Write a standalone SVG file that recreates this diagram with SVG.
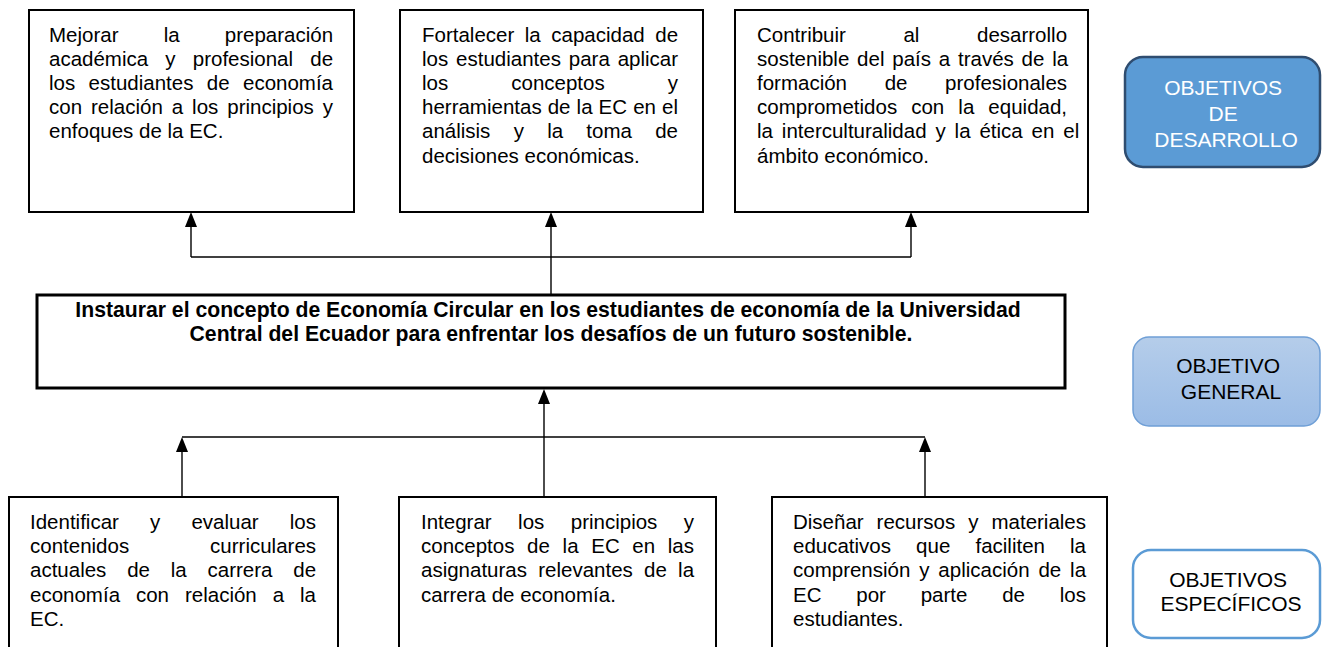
<svg xmlns="http://www.w3.org/2000/svg" width="1322" height="647" viewBox="0 0 1322 647">
<style>
.box{fill:#fff;stroke:#000;stroke-width:2}
.mid{fill:#fff;stroke:#000;stroke-width:3}
.t{font-family:"Liberation Sans",Arial,sans-serif;font-size:20.5px;fill:#000}
.b{font-family:"Liberation Sans",Arial,sans-serif;font-size:21.2px;font-weight:bold;fill:#000;text-anchor:middle}
.lab{font-family:"Liberation Sans",Arial,sans-serif;font-size:21px;text-anchor:middle}
.con{fill:none;stroke:#000;stroke-width:1.4}
</style>
<defs>
<marker id="ah" viewBox="0 0 12 15" refX="6" refY="0" markerWidth="12" markerHeight="15" markerUnits="userSpaceOnUse" orient="auto-start-reverse">
<path d="M0,15 L6,0 L12,15 Z" fill="#000"/>
</marker>
<linearGradient id="g2" x1="0" y1="0" x2="0" y2="1">
<stop offset="0" stop-color="#b5cdea"/>
<stop offset="1" stop-color="#9bbce6"/>
</linearGradient>
</defs>

<g id="connectors">
<path class="con" d="M191,257 H911"/>
<line class="con" x1="191" y1="257" x2="191" y2="226" />
<path d="M185,227 L191,212 L197,227 Z"/>
<line class="con" x1="551" y1="295" x2="551" y2="226"/>
<path d="M545,227 L551,212 L557,227 Z"/>
<line class="con" x1="911" y1="257" x2="911" y2="226"/>
<path d="M905,227 L911,212 L917,227 Z"/>
<path class="con" d="M182,437 H925"/>
<line class="con" x1="182" y1="497" x2="182" y2="451"/>
<path d="M176,452 L182,437 L188,452 Z"/>
<line class="con" x1="544" y1="497" x2="544" y2="402"/>
<path d="M538,404 L544,389 L550,404 Z"/>
<line class="con" x1="925" y1="497" x2="925" y2="451"/>
<path d="M919,452 L925,437 L931,452 Z"/>
</g>

<g id="top1">
<rect class="box" x="29" y="10" width="325" height="202"/>
<text class="t">
<tspan x="49" y="41.5" word-spacing="39.47">Mejorar la preparación</tspan>
<tspan x="49" y="65.7" word-spacing="11.49">académica y profesional de</tspan>
<tspan x="49" y="89.9" word-spacing="7.68">los estudiantes de economía</tspan>
<tspan x="49" y="114.1" word-spacing="3.25">con relación a los principios y</tspan>
<tspan x="49" y="138.3">enfoques de la EC.</tspan>
</text>
</g>

<g id="top2">
<rect class="box" x="400" y="10" width="303" height="202"/>
<text class="t">
<tspan x="422" y="41.5" word-spacing="4.82">Fortalecer la capacidad de</tspan>
<tspan x="422" y="65.7" word-spacing="2.16">los estudiantes para aplicar</tspan>
<tspan x="422" y="89.9" word-spacing="57.36">los conceptos y</tspan>
<tspan x="422" y="114.1" word-spacing="0.38">herramientas de la EC en el</tspan>
<tspan x="422" y="138.3" word-spacing="17.57">análisis y la toma de</tspan>
<tspan x="422" y="162.5">decisiones económicas.</tspan>
</text>
</g>

<g id="top3">
<rect class="box" x="735" y="10" width="353" height="202"/>
<text class="t">
<tspan x="757" y="41.5" word-spacing="51.9">Contribuir al desarrollo</tspan>
<tspan x="757" y="65.7" word-spacing="2.1">sostenible del país a través de la</tspan>
<tspan x="757" y="89.9" word-spacing="31.95">formación de profesionales</tspan>
<tspan x="757" y="114.1" word-spacing="8.38">comprometidos con la equidad,</tspan>
<tspan x="757" y="138.3" word-spacing="3.19">la interculturalidad y la ética en el</tspan>
<tspan x="757" y="162.5">ámbito económico.</tspan>
</text>
</g>

<g id="general">
<rect class="mid" x="37" y="295" width="1028" height="93"/>
<text class="b">
<tspan x="551" y="317">Instaurar el concepto de Economía Circular en los estudiantes de economía de la Universidad</tspan>
<tspan x="551" y="341">Central del Ecuador para enfrentar los desafíos de un futuro sostenible.</tspan>
</text>
</g>

<g id="spec1">
<path class="box" d="M9,660 V497 H338 V660"/>
<text class="t">
<tspan x="30" y="529" word-spacing="25.45">Identificar y evaluar los</tspan>
<tspan x="30" y="553.2" word-spacing="75.24">contenidos curriculares</tspan>
<tspan x="30" y="577.4" word-spacing="15.1">actuales de la carrera de</tspan>
<tspan x="30" y="601.6" word-spacing="10.25">economía con relación a la</tspan>
<tspan x="30" y="625.8">EC.</tspan>
</text>
</g>

<g id="spec2">
<path class="box" d="M399,660 V497 H716 V660"/>
<text class="t">
<tspan x="421" y="529" word-spacing="20.75">Integrar los principios y</tspan>
<tspan x="421" y="553.2" word-spacing="6.97">conceptos de la EC en las</tspan>
<tspan x="421" y="577.4" word-spacing="5.54">asignaturas relevantes de la</tspan>
<tspan x="421" y="601.6">carrera de economía.</tspan>
</text>
</g>

<g id="spec3">
<path class="box" d="M772,660 V497 H1107 V660"/>
<text class="t">
<tspan x="793" y="529" word-spacing="7.29">Diseñar recursos y materiales</tspan>
<tspan x="793" y="553.2" word-spacing="19.42">educativos que faciliten la</tspan>
<tspan x="793" y="577.4" word-spacing="3.18">comprensión y aplicación de la</tspan>
<tspan x="793" y="601.6" word-spacing="29.1">EC por parte de los</tspan>
<tspan x="793" y="625.8">estudiantes.</tspan>
</text>
</g>

<g id="label-desarrollo">
<rect x="1125" y="57" width="195" height="110" rx="18" ry="18" fill="#5b9bd5" stroke="#2f4d70" stroke-width="2.5"/>
<text class="lab" fill="#fff">
<tspan x="1226" y="95">OBJETIVOS</tspan>
<tspan x="1226" y="121">DE</tspan>
<tspan x="1226" y="147">DESARROLLO</tspan>
</text>
</g>

<g id="label-general">
<rect x="1133" y="337" width="187" height="89" rx="16" ry="16" fill="url(#g2)" stroke="#6f9fd6" stroke-width="1.5"/>
<text class="lab" fill="#000">
<tspan x="1231" y="373">OBJETIVO</tspan>
<tspan x="1231" y="399">GENERAL</tspan>
</text>
</g>

<g id="label-especificos">
<rect x="1133" y="550" width="187" height="88" rx="18" ry="18" fill="#fff" stroke="#5b9bd5" stroke-width="2.5"/>
<text class="lab" fill="#000">
<tspan x="1231" y="587">OBJETIVOS</tspan>
<tspan x="1231" y="611">ESPECÍFICOS</tspan>
</text>
</g>
</svg>
